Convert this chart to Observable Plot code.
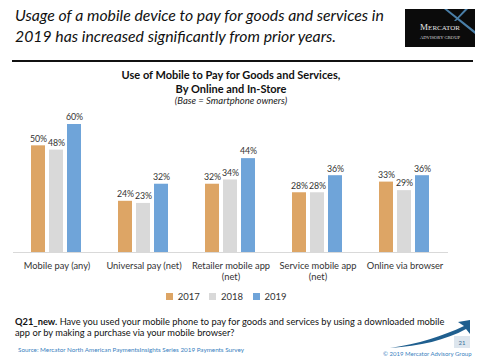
<!DOCTYPE html>
<html><head><meta charset="utf-8">
<script src="https://cdn.jsdelivr.net/npm/d3@7"></script>
<script src="https://cdn.jsdelivr.net/npm/@observablehq/plot@0.6"></script>
<style>
body{margin:0;background:#fff;font-family:Lato,"Open Sans",sans-serif;}
#wrap{position:relative;width:480px;height:360px;overflow:hidden;}
.abs{position:absolute;}
#title{left:15px;top:4px;font-size:15.8px;font-style:italic;line-height:21px;color:#111;white-space:nowrap;}
#rule{left:12px;top:60px;width:461px;height:2px;background:#111;}
#ctitle{left:0;width:462px;top:68px;text-align:center;font-weight:bold;font-size:11px;line-height:14px;color:#111;}
#csub{left:0;width:462px;top:95px;text-align:center;font-style:italic;font-size:9.5px;color:#222;}
#chart{left:0;top:110px;}
#legend{left:0;width:462px;top:280px;display:flex;justify-content:center;}
#q{left:15px;top:316px;font-size:9.3px;line-height:11px;color:#111;white-space:nowrap;}
#src{left:18px;top:346px;font-size:6.3px;color:#3a7fc0;white-space:nowrap;}
#copy{left:383px;top:350px;font-size:6px;color:#3a7fc0;white-space:nowrap;}
</style></head>
<body>
<div id="wrap">
  <div id="title" class="abs">Usage of a mobile device to pay for goods and services in<br>2019 has increased significantly from prior years.</div>
  <svg class="abs" style="left:405px;top:9px" width="70" height="38">
    <rect width="70" height="38" fill="#0b0b0b"/>
    <path d="M42,0 L70,22 L70,25 L39,0Z" fill="#4a7fa8"/>
    <path d="M60,0 L49,12 L51,12 L63,0Z" fill="#4a7fa8"/>
    <text x="35" y="21" text-anchor="middle" fill="#e8e8e8" font-family="Liberation Serif" font-size="9">M<tspan font-size="7">ERCATOR</tspan></text>
    <text x="35" y="30" text-anchor="middle" fill="#ddd" font-family="Liberation Serif" font-size="4.6">ADVISORY GROUP</text>
  </svg>
  <div id="rule" class="abs"></div>
  <div id="ctitle" class="abs">Use of Mobile to Pay for Goods and Services,<br>By Online and In-Store</div>
  <div id="csub" class="abs">(Base = Smartphone owners)</div>
  <div id="chart" class="abs"></div>
  <div id="legend" class="abs"></div>
  <div id="q" class="abs"><b>Q21_new.</b> Have you used your mobile phone to pay for goods and services by using a downloaded mobile<br>app or by making a purchase via your mobile browser?</div>
  <svg class="abs" style="left:388px;top:318px" width="84" height="32">
    <path d="M2,30 C30,26 55,18 76,8 L70,4 L82,2 L82,16 L78,11 C58,22 32,28 2,30Z" fill="#1f5f8f"/>
    <rect x="66" y="18" width="16" height="12" fill="#dde6ee"/>
    <text x="74" y="27" text-anchor="middle" font-size="6" fill="#3a6f9a" font-family="Lato">21</text>
  </svg>
  <div id="src" class="abs">Source: Mercator North American PaymentsInsights Series 2019 Payments Survey</div>
  <div id="copy" class="abs">© 2019 Mercator Advisory Group</div>
</div>
<script>
const categories = ["Mobile pay (any)", "Universal pay (net)", "Retailer mobile app\n(net)", "Service mobile app\n(net)", "Online via browser"];
const years = ["2017", "2018", "2019"];
const v2017 = [50, 24, 32, 28, 33];
const v2018 = [48, 23, 34, 28, 29];
const v2019 = [60, 32, 44, 36, 36];
const colors = ["#DDA565", "#D9D9D9", "#6FA4D9"];

const series = [v2017, v2018, v2019];
const data = [];
categories.forEach((c, i) => years.forEach((y, j) => data.push({category: c, year: y, value: series[j][i]})));

const chart = Plot.plot({
  width: 480, height: 180,
  marginLeft: 12, marginRight: 32, marginTop: 14, marginBottom: 38,
  style: {fontFamily: "Lato, sans-serif", fontSize: "9.3px", color: "#333"},
  fx: {domain: categories, padding: 0, label: null},
  x: {domain: years, paddingInner: 0.21, paddingOuter: 0.9, axis: null},
  y: {domain: [0, 60], axis: null},
  color: {domain: years, range: colors},
  marks: [
    Plot.barY(data, {fx: "category", x: "year", y: "value", fill: "year"}),
    Plot.ruleY([0], {stroke: "#D9D9D9", strokeWidth: 1}),
    Plot.text(data, {fx: "category", x: "year", y: "value", text: d => d.value + "%", dy: -7, fill: "#333", fontSize: 8.8}),
    Plot.axisFx({anchor: "bottom", tickSize: 0, tickPadding: 9, label: null, fontSize: 9.3, lineHeight: 1.15})
  ]
});
document.getElementById("chart").appendChild(chart);

const leg = Plot.legend({color: {domain: years, range: colors}, swatchSize: 7, style: {fontFamily: "Lato, sans-serif", fontSize: "9.5px", color: "#333"}});
document.getElementById("legend").appendChild(leg);
</script>
</body></html>
